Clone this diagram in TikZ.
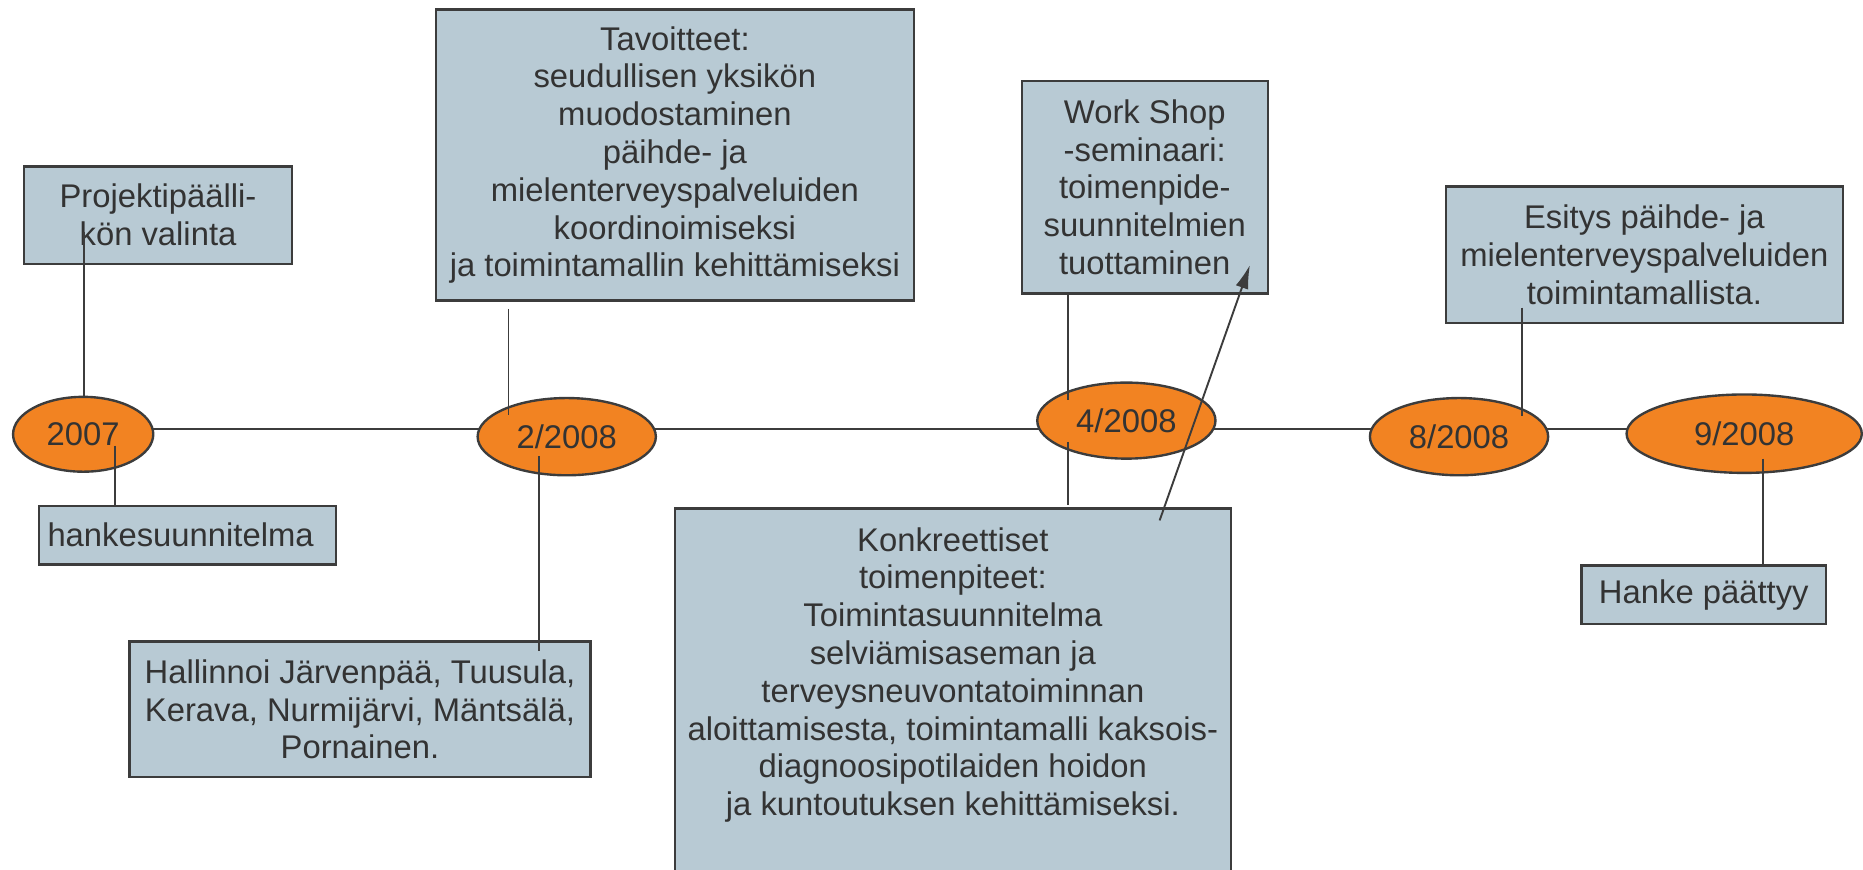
\documentclass[tikz,border=0pt]{standalone}
\usepackage{fontspec}
\setmainfont{Liberation Sans}
\usetikzlibrary{shapes.geometric,arrows.meta,backgrounds}
\definecolor{boxfill}{HTML}{B8CAD4}
\definecolor{orangefill}{HTML}{F28322}
\definecolor{edge}{HTML}{3C3C3C}
\definecolor{txtc}{HTML}{333333}
\tikzset{
  infobox/.style={draw=edge, line width=2pt, fill=boxfill, rectangle, inner sep=0pt,
    align=center, text=txtc, font=\fontsize{27.6}{31.8}\selectfont},
  datebox/.style={draw=edge, line width=2pt, fill=orangefill, ellipse, inner sep=0pt,
    text=txtc, font=\fontsize{27.6}{31.8}\selectfont},
  plaintext/.style={inner sep=0pt, align=center, text=txtc, font=\fontsize{27.6}{31.8}\selectfont},
  conn/.style={draw=edge, line width=1.6pt},
  tline/.style={draw=edge, line width=2pt}
}
\begin{document}
\begin{tikzpicture}[x=1pt,y=-1pt]
\useasboundingbox (0,0) rectangle (1568,732);

% date ellipses
\node[datebox, minimum width=118pt, minimum height=63pt] (e07) at (70,365.5) {2007};
\node[datebox, minimum width=150pt, minimum height=65pt] (e0208) at (477,367.5) {2/2008};
\node[datebox, minimum width=150pt, minimum height=64pt] (e0408) at (948,354) {4/2008};
\node[datebox, minimum width=150pt, minimum height=65pt] (e0808) at (1228,367.5) {8/2008};
\node[datebox, minimum width=198pt, minimum height=66pt] (e0908) at (1468,365) {9/2008};

% white page and time line behind the ellipses
\coordinate (tl) at (0,361);
\begin{pgfonlayer}{background}
\fill[white] (0,0) rectangle (1568,732);
\draw[tline] (e07 |- tl) -- (e0208 |- tl) -- (e0408 |- tl) -- (e0808 |- tl) -- (e0908 |- tl);
\end{pgfonlayer}

% boxes
\node[infobox, minimum width=226pt, minimum height=82pt] (proj) at (133,181)
  {Projektipäälli-\\kön valinta};
\node[infobox, minimum width=250pt, minimum height=49pt] (hanke) at (158,450.5)
  {\hspace*{-12pt}hankesuunnitelma};
\node[infobox, minimum width=402pt, minimum height=245pt] (tav) at (568,130.5)
  {Tavoitteet:\\seudullisen yksikön\\muodostaminen\\päihde- ja\\mielenterveyspalveluiden\\koordinoimiseksi\\ja toimintamallin kehittämiseksi};
\node[infobox, minimum width=388pt, minimum height=114pt] (hall) at (303,597)
  {Hallinnoi Järvenpää, Tuusula,\\Kerava, Nurmijärvi, Mäntsälä,\\Pornainen.};
\node[infobox, minimum width=207pt, minimum height=179pt] (work) at (963.5,157.5)
  {Work Shop\\-seminaari:\\toimenpide-\\suunnitelmien\\tuottaminen};
\node[infobox, minimum width=468pt, minimum height=340pt] (konk) at (802,598) {};
\node[plaintext] (konktext) at (802,568)
  {Konkreettiset\\toimenpiteet:\\Toimintasuunnitelma\\selviämisaseman ja\\terveysneuvontatoiminnan\\aloittamisesta, toimintamalli kaksois-\\diagnoosipotilaiden hoidon\\ja kuntoutuksen kehittämiseksi.};
\node[infobox, minimum width=334pt, minimum height=115pt] (esit) at (1384,214.5)
  {Esitys päihde- ja\\mielenterveyspalveluiden\\toimintamallista.};
\node[infobox, minimum width=206pt, minimum height=49pt] (hp) at (1434,500.5)
  {Hanke päättyy};

% connector end points
\coordinate (a1) at (71,195);
\coordinate (a2) at (97,375);
\coordinate (b1) at (428,260);
\coordinate (b2) at (428,349);
\coordinate (b3) at (454,384);
\coordinate (b4) at (454,548);
\coordinate (c1) at (899,337);
\coordinate (c2) at (899,372);
\coordinate (c3) at (899,425);
\coordinate (d1) at (976,438);
\coordinate (d2) at (1052,223);
\coordinate (f1) at (1281,259);
\coordinate (f2) at (1281,350);
\coordinate (g1) at (1484,386);

% connectors
\draw[conn] (e07.north -| a1) -- (a1);
\draw[conn] (a2) -- (a2 |- hanke.north);
\draw[conn] (b1) -- (b2);
\draw[conn] (b3) -- (b4);
\draw[conn] (c1 |- work.south) -- (c1);
\draw[conn] (c2) -- (c3);
\draw[conn, -{Latex[length=20pt,width=11pt]}] (d1) -- (d2);
\draw[conn] (f1) -- (f2);
\draw[conn] (g1) -- (g1 |- hp.north);
\end{tikzpicture}
\end{document}
